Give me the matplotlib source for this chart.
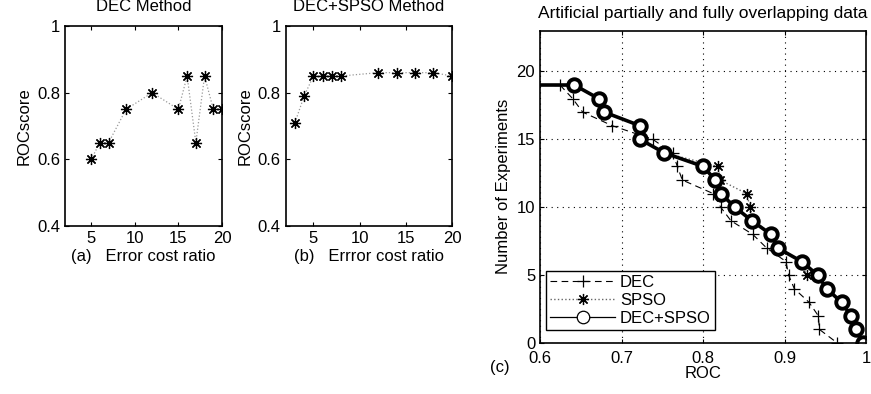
import numpy as np
import matplotlib.pyplot as plt
from matplotlib.lines import Line2D

plt.rcParams['font.family'] = ['Liberation Sans', 'DejaVu Sans']
plt.rcParams['font.size'] = 12

# (a) DEC Method
ratio_a = [5, 6, 7, 9, 12, 15, 16, 17, 18, 19, 20]
roc_a = [0.60, 0.65, 0.65, 0.75, 0.80, 0.75, 0.85, 0.65, 0.85, 0.75, 0.75]

# (b) DEC+SPSO Method
ratio_b = [3, 4, 5, 6, 7, 8, 12, 14, 16, 18, 20]
roc_b = [0.71, 0.79, 0.85, 0.85, 0.85, 0.85, 0.86, 0.86, 0.86, 0.86, 0.85]

# (c) number of experiments vs ROC
n_exp = np.arange(19, -1, -1)
roc_dec = [0.6245, 0.640, 0.6524, 0.6888, 0.7382, 0.7628, 0.7685, 0.7746, 0.8127, 0.8217,
           0.8343, 0.861, 0.878, 0.9018, 0.905, 0.912, 0.930, 0.9415, 0.9428, 0.9648]
roc_spso = [0.642, 0.672, 0.679, 0.7227, 0.7227, 0.7526, 0.8188, 0.8209, 0.8536, 0.8577,
            0.862, 0.884, 0.892, 0.921, 0.927, 0.952, 0.970, 0.982, 0.987, 0.996]
roc_both = [0.642, 0.672, 0.679, 0.7227, 0.7227, 0.7526, 0.8004, 0.815, 0.8217, 0.8393,
            0.860, 0.8834, 0.8916, 0.921, 0.9407, 0.9517, 0.970, 0.9816, 0.9873, 0.9959]
# line enters from the left edge at 19
lead_x = 0.55
lead_y = 19

ast = (8, 2, 0)  # matlab style asterisk


def matlab_box(ax):
    ax.tick_params(direction='in', top=True, right=True, length=3, width=0.8, labelsize=12)
    for s in ax.spines.values():
        s.set_linewidth(1.2)


fig = plt.figure(figsize=(8.71, 3.94), dpi=100)

ax1 = fig.add_axes([0.0746, 0.4264, 0.1803, 0.5076])
ax1.plot(ratio_a, roc_a, ':', color='0.6', lw=0.9)
ax1.plot(ratio_a, roc_a, marker=ast, color='k', ms=8, mew=0.9, ls='none')
ax1.set_xlim(2, 20)
ax1.set_ylim(0.4, 1)
ax1.set_xticks([5, 10, 15, 20])
ax1.set_yticks([0.4, 0.6, 0.8, 1])
ax1.set_yticklabels(['0.4', '0.6', '0.8', '1'])
ax1.set_ylabel('ROCscore')
ax1.set_xlabel('(a)   Error cost ratio', labelpad=2)
ax1.set_title('DEC Method', fontsize=12, pad=11)
matlab_box(ax1)

ax2 = fig.add_axes([0.328, 0.4264, 0.1909, 0.5076])
ax2.plot(ratio_b, roc_b, ':', color='0.6', lw=0.9)
ax2.plot(ratio_b, roc_b, marker=ast, color='k', ms=8, mew=0.9, ls='none')
ax2.set_xlim(2, 20)
ax2.set_ylim(0.4, 1)
ax2.set_xticks([5, 10, 15, 20])
ax2.set_yticks([0.4, 0.6, 0.8, 1])
ax2.set_yticklabels(['0.4', '0.6', '0.8', '1'])
ax2.set_ylabel('ROCscore')
ax2.set_xlabel('(b)   Errror cost ratio', labelpad=2)
ax2.set_title('DEC+SPSO Method', fontsize=12, pad=11)
matlab_box(ax2)

ax3 = fig.add_axes([0.62, 0.1294, 0.3743, 0.7927])
ax3.plot(roc_dec, n_exp, '--', color='k', lw=0.8, dashes=(6, 4))
ax3.plot(roc_dec, n_exp, '+', color='k', ms=8, mew=0.9, ls='none')
ax3.plot(roc_spso, n_exp, ':', color='0.4', lw=1)
ax3.plot(roc_spso, n_exp, marker=ast, color='k', ms=8, mew=0.9, ls='none')
ax3.plot([lead_x] + roc_both, [lead_y] + list(n_exp), '-', color='k', lw=2.6)
ax3.plot(roc_both, n_exp, 'o', color='k', mfc='white', ms=9, mew=2.8, ls='none')
ax3.set_xlim(0.6, 1)
ax3.set_ylim(0, 23)
ax3.set_xticks([0.6, 0.7, 0.8, 0.9, 1])
ax3.set_xticklabels(['0.6', '0.7', '0.8', '0.9', '1'])
ax3.set_yticks([0, 5, 10, 15, 20])
ax3.grid(True, ls=':', color='k', lw=0.8, dashes=(1, 4))
ax3.set_xlabel('ROC', labelpad=0)
ax3.set_ylabel('Number of Experiments')
ax3.set_title('Artificial partially and fully overlapping data', fontsize=12.5, pad=9)
matlab_box(ax3)
ax3.tick_params(axis='x', pad=6)
fig.text(0.574, 0.066, '(c)', fontsize=12, ha='center', va='center')

handles = [
    Line2D([], [], color='k', ls='--', dashes=(6, 4), lw=0.8, marker='+', ms=8, mew=0.9),
    Line2D([], [], color='0.4', ls=':', lw=1, marker=ast, ms=8, mec='k', mew=0.9),
    Line2D([], [], color='k', ls='-', lw=0.9, marker='o', ms=9, mfc='white', mew=0.9),
]
leg = ax3.legend(handles, ['DEC', 'SPSO', 'DEC+SPSO'], loc='lower left',
                 bbox_to_anchor=(0.018, 0.042), fancybox=False, edgecolor='k',
                 framealpha=1, handlelength=3.9, borderpad=0.25, labelspacing=0.17,
                 handletextpad=0.3, borderaxespad=0, fontsize=12)
leg.get_frame().set_linewidth(1.0)

fig.savefig('out.png', dpi=100)
